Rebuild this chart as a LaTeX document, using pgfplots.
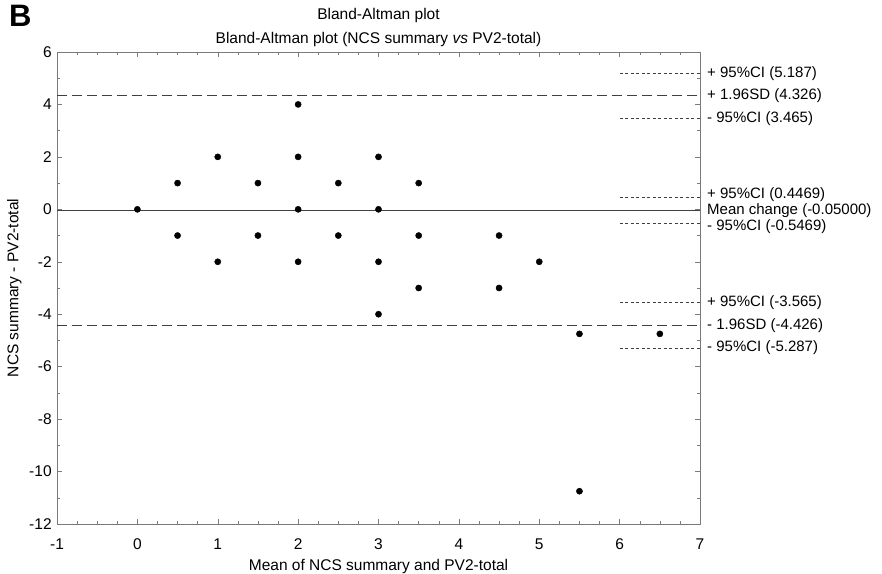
\documentclass[border=0pt]{standalone}
\usepackage{fontspec}
\setmainfont{Liberation Sans}
\usepackage{pgfplots}
\pgfplotsset{compat=1.18}

\definecolor{axisgray}{HTML}{7A7A7A}
\definecolor{linegray}{HTML}{404040}

\begin{document}
\fontsize{15.5bp}{18bp}\selectfont
\begin{tikzpicture}[x=1bp,y=1bp]
\path[use as bounding box] (0,0) rectangle (882,574);
\node[font=\fontsize{31bp}{32bp}\selectfont\bfseries, anchor=north west, inner sep=0pt] at (9,569) {B};
\begin{axis}[
    at={(57bp,50bp)}, anchor=south west,
    scale only axis, width=643bp, height=472bp,
    xmin=-1, xmax=7, ymin=-12, ymax=6,
    xtick={-1,0,...,7}, ytick={-12,-10,...,6},
    minor x tick num=3, minor y tick num=1,
    axis line style={axisgray},
    every tick/.style={axisgray},
    major tick length=5bp, minor tick length=3bp,
    /pgf/number format/assume math mode=true,
    ticklabel style={font=\fontsize{15.5bp}{18bp}\selectfont},
    xticklabel style={yshift=-9bp},
    title={Bland-Altman plot\\Bland-Altman plot (NCS summary \textit{vs} PV2-total)},
    title style={align=center, font=\fontsize{15.5bp}{24bp}\selectfont, yshift=-6bp},
    xlabel={Mean of NCS summary and PV2-total},
    ylabel={NCS summary - PV2-total},
    xlabel style={yshift=1bp},
    ylabel style={yshift=-3bp},
    clip=false,
]
% limits of agreement
\addplot[linegray, dash pattern=on 10bp off 5bp, line width=0.9pt] coordinates {(-1,4.326) (7,4.326)};
\addplot[linegray, dash pattern=on 10bp off 5bp, line width=0.9pt] coordinates {(-1,-4.426) (7,-4.426)};
% mean
\addplot[linegray, line width=0.9pt] coordinates {(-1,-0.05) (7,-0.05)};
% confidence intervals
\addplot[linegray, dash pattern=on 3bp off 2.5bp, line width=0.7pt] coordinates {(6,5.187) (7,5.187)};
\addplot[linegray, dash pattern=on 3bp off 2.5bp, line width=0.7pt] coordinates {(6,3.465) (7,3.465)};
\addplot[linegray, dash pattern=on 3bp off 2.5bp, line width=0.7pt] coordinates {(6,0.4469) (7,0.4469)};
\addplot[linegray, dash pattern=on 3bp off 2.5bp, line width=0.7pt] coordinates {(6,-0.5469) (7,-0.5469)};
\addplot[linegray, dash pattern=on 3bp off 2.5bp, line width=0.7pt] coordinates {(6,-3.565) (7,-3.565)};
\addplot[linegray, dash pattern=on 3bp off 2.5bp, line width=0.7pt] coordinates {(6,-5.287) (7,-5.287)};
% observations
\addplot[only marks, mark=*, mark size=3.1bp, black] coordinates {
    (0,0) (0.5,1) (0.5,-1) (1,2) (1,-2) (1.5,1) (1.5,-1)
    (2,4) (2,2) (2,0) (2,-2) (2.5,1) (2.5,-1)
    (3,2) (3,0) (3,-2) (3,-4) (3.5,1) (3.5,-1) (3.5,-3)
    (4.5,-1) (4.5,-3) (5,-2) (5.5,-4.75) (6.5,-4.75) (5.5,-10.75)
};
% labels at the right
\begin{scope}[every node/.style={anchor=west, inner sep=0pt, xshift=7bp,
    font=\fontsize{15bp}{17bp}\selectfont}]
\node at (axis cs:7,5.187) {+ 95\%CI (5.187)};
\node at (axis cs:7,4.326) {+ 1.96SD (4.326)};
\node at (axis cs:7,3.465) {- 95\%CI (3.465)};
\node[yshift=2.5bp] at (axis cs:7,0.4469) {+ 95\%CI (0.4469)};
\node at (axis cs:7,-0.05) {Mean change (-0.05000)};
\node[yshift=-3bp] at (axis cs:7,-0.5469) {- 95\%CI (-0.5469)};
\node at (axis cs:7,-3.565) {+ 95\%CI (-3.565)};
\node at (axis cs:7,-4.426) {- 1.96SD (-4.426)};
\node at (axis cs:7,-5.287) {- 95\%CI (-5.287)};
\end{scope}
\end{axis}
\end{tikzpicture}
\end{document}
